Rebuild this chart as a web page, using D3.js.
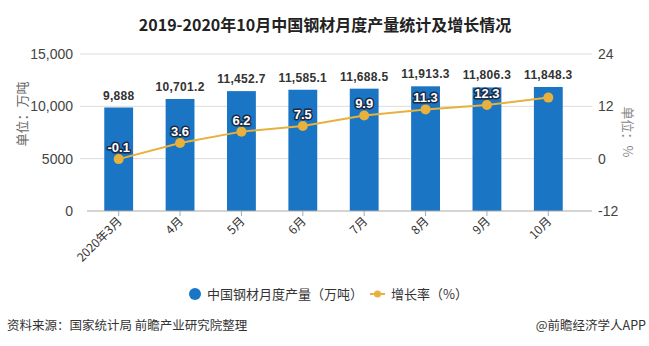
<!DOCTYPE html>
<html>
<head>
<meta charset="utf-8">
<script src="https://cdn.jsdelivr.net/npm/d3@7"></script>
<style>
  body { margin: 0; background: #fff; }
  svg text { font-family: "Noto Sans CJK SC", "Noto Sans", sans-serif; }
</style>
</head>
<body>
<div id="chart"></div>
<script>
// data
const months = ["2020年3月", "4月", "5月", "6月", "7月", "8月", "9月", "10月"];
const output = [9888, 10701.2, 11452.7, 11585.1, 11688.5, 11913.3, 11806.3, 11848.3];
const outputLabels = ["9,888", "10,701.2", "11,452.7", "11,585.1", "11,688.5", "11,913.3", "11,806.3", "11,848.3"];
const growth = [-0.1, 3.6, 6.2, 7.5, 9.9, 11.3, 12.3, 14.0];
const growthLabels = ["-0.1", "3.6", "6.2", "7.5", "9.9", "11.3", "12.3", ""];
const leftTicks = [0, 5000, 10000, 15000];
const leftTickLabels = ["0", "5000", "10,000", "15,000"];
const rightTicks = [-12, 0, 12, 24];

const W = 649, H = 346;
const barColor = "#1a75c4";
const lineColor = "#e8b13c";
const numFont = "'Liberation Sans Narrow', 'Liberation Sans', sans-serif";

const svg = d3.select("#chart").append("svg")
  .attr("width", W).attr("height", H);

// scales
const x = d3.scaleBand().domain(months).range([88, 579])
  .paddingInner(0.53).paddingOuter(0.265);
const yL = d3.scaleLinear().domain([0, 15000]).range([211, 54]);
const yR = d3.scaleLinear().domain([-12, 24]).range([211, 54]);

// title
svg.append("text")
  .attr("x", 325).attr("y", 31)
  .attr("text-anchor", "middle")
  .style("font-size", "16px").style("font-weight", "bold")
  .attr("fill", "#222")
  .text("2019-2020年10月中国钢材月度产量统计及增长情况");

// gridlines
svg.append("g").selectAll("line")
  .data(leftTicks.filter(d => d > 0))
  .join("line")
    .attr("x1", 80).attr("x2", 592)
    .attr("y1", d => yL(d)).attr("y2", d => yL(d))
    .attr("stroke", "#dcdcdc").attr("stroke-width", 1);

// left axis labels
svg.append("g").selectAll("text")
  .data(leftTicks)
  .join("text")
    .attr("x", 73).attr("y", d => yL(d) + 5)
    .attr("text-anchor", "end")
    .style("font-family", numFont).style("font-size", "14px")
    .attr("fill", "#444")
    .text((d, i) => leftTickLabels[i]);

// right axis labels
svg.append("g").selectAll("text")
  .data(rightTicks)
  .join("text")
    .attr("x", 598).attr("y", d => yR(d) + 5)
    .attr("text-anchor", "start")
    .style("font-family", numFont).style("font-size", "14px")
    .attr("fill", "#444")
    .text(d => d);

// axis titles
svg.append("text")
  .attr("transform", "translate(27,114) rotate(-90)")
  .attr("text-anchor", "middle")
  .style("font-size", "13px").attr("fill", "#666")
  .text("单位：万吨");
svg.append("text")
  .attr("transform", "translate(623,132) rotate(90)")
  .attr("text-anchor", "middle")
  .style("font-size", "13px").attr("fill", "#888")
  .text("单位：%");

// bars
svg.append("g").selectAll("rect")
  .data(output)
  .join("rect")
    .attr("x", (d, i) => x(months[i]))
    .attr("y", d => yL(d))
    .attr("width", x.bandwidth())
    .attr("height", d => yL(0) - yL(d))
    .attr("fill", barColor);

// x axis
const xAxis = svg.append("g").attr("transform", `translate(0,${yL(0)})`);
xAxis.append("line").attr("x1", 87).attr("x2", 592)
  .attr("stroke", "#aaa");
xAxis.selectAll(".tk").data(months).join("line")
  .attr("class", "tk")
  .attr("x1", d => x(d) + x.bandwidth() / 2).attr("x2", d => x(d) + x.bandwidth() / 2)
  .attr("y1", 0).attr("y2", 5).attr("stroke", "#aaa");
xAxis.selectAll(".lb").data(months).join("text")
  .attr("class", "lb")
  .attr("transform", d => `translate(${x(d) + x.bandwidth() / 2 + 4},${11}) rotate(-45)`)
  .attr("text-anchor", "end")
  .style("font-size", "12px").attr("fill", "#333")
  .text(d => d);

// bar value labels
svg.append("g").selectAll("text")
  .data(output)
  .join("text")
    .attr("x", (d, i) => x(months[i]) + x.bandwidth() / 2)
    .attr("y", d => yL(d) - 8)
    .attr("text-anchor", "middle")
    .style("font-family", "'Liberation Sans', Arial, sans-serif")
    .style("font-size", "12px").style("font-weight", "bold")
    .style("letter-spacing", "0.3px")
    .attr("fill", "#333")
    .text((d, i) => outputLabels[i]);

// growth line
const line = d3.line()
  .x((d, i) => x(months[i]) + x.bandwidth() / 2)
  .y(d => yR(d));
svg.append("path")
  .datum(growth)
  .attr("fill", "none")
  .attr("stroke", lineColor)
  .attr("stroke-width", 2)
  .attr("d", line);
svg.append("g").selectAll("circle")
  .data(growth)
  .join("circle")
    .attr("cx", (d, i) => x(months[i]) + x.bandwidth() / 2)
    .attr("cy", d => yR(d))
    .attr("r", 5)
    .attr("fill", lineColor);

svg.append("g").selectAll("text")
  .data(growth)
  .join("text")
    .attr("x", (d, i) => x(months[i]) + x.bandwidth() / 2)
    .attr("y", d => yR(d) - 7)
    .attr("text-anchor", "middle")
    .style("font-family", "'Liberation Sans', Arial, sans-serif")
    .style("font-size", "13px").style("font-weight", "bold")
    .attr("fill", "#fff")
    .attr("stroke", "#1d2a44").attr("stroke-width", 3)
    .attr("paint-order", "stroke")
    .attr("stroke-linejoin", "round")
    .text((d, i) => growthLabels[i]);

// legend
const lg = svg.append("g");
lg.append("circle").attr("cx", 195).attr("cy", 294).attr("r", 6).attr("fill", barColor);
lg.append("text").attr("x", 207).attr("y", 299)
  .style("font-size", "13px").attr("fill", "#333")
  .text("中国钢材月度产量（万吨）");
lg.append("line").attr("x1", 370).attr("x2", 385).attr("y1", 294).attr("y2", 294)
  .attr("stroke", lineColor).attr("stroke-width", 2);
lg.append("circle").attr("cx", 377.5).attr("cy", 294).attr("r", 3.5).attr("fill", lineColor);
lg.append("text").attr("x", 391).attr("y", 299)
  .style("font-size", "13px").attr("fill", "#333")
  .text("增长率（%）");

// footer
svg.append("text").attr("x", 7).attr("y", 330)
  .style("font-size", "12.5px").attr("fill", "#333")
  .text("资料来源：国家统计局 前瞻产业研究院整理");
svg.append("text").attr("x", 646).attr("y", 330)
  .attr("text-anchor", "end")
  .style("font-size", "12.5px").attr("fill", "#333")
  .text("@前瞻经济学人APP");
</script>
</body>
</html>
